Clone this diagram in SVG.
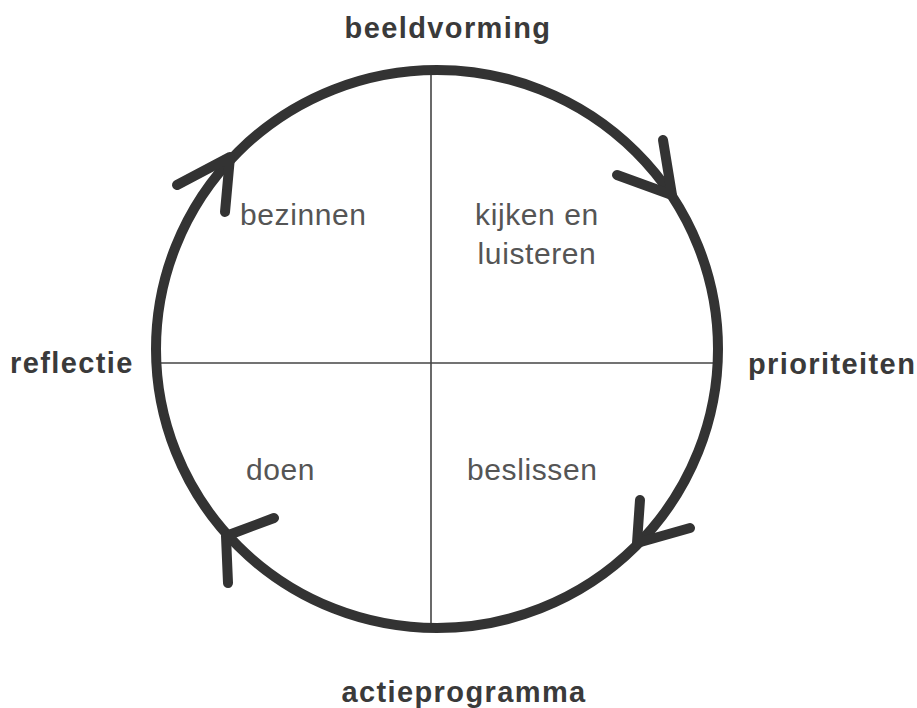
<svg xmlns="http://www.w3.org/2000/svg" width="917" height="708" viewBox="0 0 917 708">
<style>
.cyc{fill:none;stroke:#333;stroke-width:10;stroke-linecap:round;stroke-linejoin:round}
.ax{stroke:#444;stroke-width:1.6;fill:none}
.lbl{font-family:"Liberation Sans",Arial,sans-serif;font-weight:bold;font-size:29px;letter-spacing:1.4px;fill:#3a3a3a}
.in{font-family:"Liberation Sans",Arial,sans-serif;font-size:30px;letter-spacing:0.6px;fill:#555}
</style>
<rect width="917" height="708" fill="#fff"/>
<g id="axes">
<line class="ax" x1="431" y1="72" x2="431" y2="627"/>
<line class="ax" x1="158" y1="363" x2="716" y2="363"/>
</g>
<g id="connectors">
<ellipse class="cyc" cx="437" cy="349" rx="281" ry="279"/>
<path class="cyc" d="M177,185 L230,157 L225,212"/>
<path class="cyc" d="M617,175 L672,195 L663,140"/>
<path class="cyc" d="M640,500 L637,543 L690,528"/>
<path class="cyc" d="M274,518 L226,536 L228,583"/>
</g>
<g id="beeldvorming"><text class="lbl" x="448" y="38" text-anchor="middle">beeldvorming</text></g>
<g id="prioriteiten"><text class="lbl" x="748" y="374">prioriteiten</text></g>
<g id="actieprogramma"><text class="lbl" x="464" y="702" text-anchor="middle">actieprogramma</text></g>
<g id="reflectie"><text class="lbl" x="10" y="373">reflectie</text></g>
<g id="bezinnen"><text class="in" x="240" y="225">bezinnen</text></g>
<g id="kijken"><text class="in" x="537" y="225" text-anchor="middle">kijken en</text><text class="in" x="537" y="264" text-anchor="middle">luisteren</text></g>
<g id="doen"><text class="in" x="246" y="480">doen</text></g>
<g id="beslissen"><text class="in" x="467" y="480">beslissen</text></g>
</svg>
